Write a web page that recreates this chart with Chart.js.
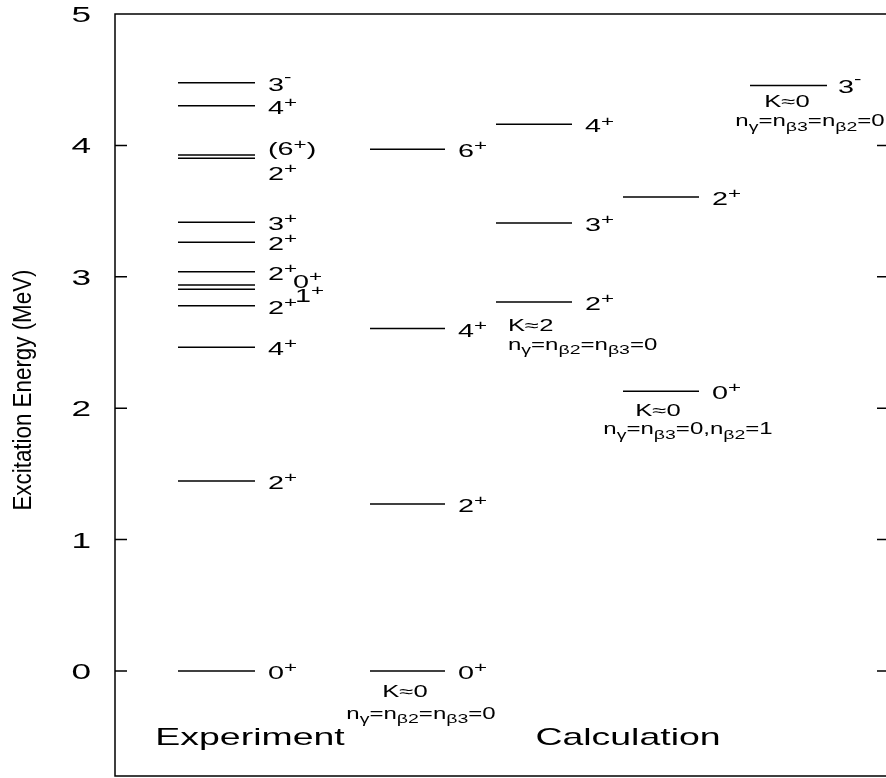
<!DOCTYPE html>
<html>
<head>
<meta charset="utf-8">
<script src="https://cdn.jsdelivr.net/npm/chart.js@4.4.1/dist/chart.umd.min.js"></script>
<style>
  html, body { margin: 0; padding: 0; background: #fff; }
  #wrap { width: 886px; height: 778px; position: relative; }
</style>
</head>
<body>
<div id="wrap"><canvas id="levelChart"></canvas></div>
<script>
// energy ticks (MeV)
const yTicks = [0, 1, 2, 3, 4, 5];

// experimental levels
const expEnergies = [0, 1.446, 2.463, 2.780, 2.905, 2.938, 3.039, 3.262, 3.415, 3.902, 3.927, 4.302, 4.477];
const expSpins = ['0^+', '2^+', '4^+', '2^+', '1^+', '0^+', '2^+', '2^+', '3^+', '2^+', '(6^+)', '4^+', '3^-'];

// calculated bands
const gsbEnergies = [0, 1.270, 2.606, 3.970];
const gsbSpins = ['0^+', '2^+', '4^+', '6^+'];
const gamEnergies = [2.808, 3.409, 4.160];
const gamSpins = ['2^+', '3^+', '4^+'];
const betEnergies = [2.129, 3.607];
const betSpins = ['0^+', '2^+'];
const octEnergies = [4.456];
const octSpins = ['3^-'];

const bandK = ['K≈0', 'K≈2', 'K≈0', 'K≈0'];
const bandN = ['n_γ=n_{β2}=n_{β3}=0', 'n_γ=n_{β2}=n_{β3}=0', 'n_γ=n_{β3}=0,n_{β2}=1', 'n_γ=n_{β3}=n_{β2}=0'];

// layout (x in pixels of the 886 wide page)
const columns = {
  exp: { x0: 178, x1: 255, lx: 268 },
  gsb: { x0: 370, x1: 445, lx: 458 },
  gam: { x0: 496, x1: 572, lx: 585 },
  bet: { x0: 623, x1: 699, lx: 712 },
  oct: { x0: 750, x1: 827, lx: 838 }
};
// crowded experimental labels: index -> label anchor
const expLabelAt = { 4: { x: 295, e: 2.867 }, 5: { x: 293, e: 2.973 }, 9: { e: 3.795 }, 10: { e: 3.985 } };
// band tags: which level they hang under, x, alignment, pixel offsets
const tagPlace = [
  { band: 'gsb', level: 0, kx: 405, nx: 421, align: 'center', kdy: 26, ndy: 48 },
  { band: 'gam', level: 0, kx: 508, nx: 508, align: 'left', kdy: 29, ndy: 48 },
  { band: 'bet', level: 0, kx: 658, nx: 688, align: 'center', kdy: 25, ndy: 43 },
  { band: 'oct', level: 0, kx: 787, nx: 810, align: 'center', kdy: 22, ndy: 41 }
];

const FONT = '"Liberation Sans", Arial, sans-serif';
const STRETCH = 1.6;

const bands = {
  exp: { e: expEnergies, s: expSpins },
  gsb: { e: gsbEnergies, s: gsbSpins },
  gam: { e: gamEnergies, s: gamSpins },
  bet: { e: betEnergies, s: betSpins },
  oct: { e: octEnergies, s: octSpins }
};

// split "n_{β2}" / "2^+" into plain, sub and sup runs
function parseRich(str) {
  const out = [];
  let i = 0, buf = '';
  while (i < str.length) {
    const c = str[i];
    if (c === '^' || c === '_') {
      if (buf) { out.push({ t: buf, k: '' }); buf = ''; }
      let t;
      if (str[i + 1] === '{') {
        const j = str.indexOf('}', i);
        t = str.slice(i + 2, j);
        i = j + 1;
      } else {
        t = str[i + 1];
        i += 2;
      }
      out.push({ t: t, k: c === '^' ? 'sup' : 'sub' });
    } else {
      buf += c;
      i++;
    }
  }
  if (buf) out.push({ t: buf, k: '' });
  return out;
}

function drawRich(ctx, str, x, y, align, size, stretch) {
  const segs = parseRich(str);
  const small = Math.round(size * 0.8);
  let w = 0;
  segs.forEach(function(s) {
    ctx.font = (s.k ? small : size) + 'px ' + FONT;
    s.w = ctx.measureText(s.t).width;
    w += s.w;
  });
  let x0 = x;
  if (align === 'center') x0 = x - w * stretch / 2;
  else if (align === 'right') x0 = x - w * stretch;
  ctx.save();
  ctx.translate(x0, y);
  ctx.scale(stretch, 1);
  ctx.fillStyle = '#000';
  ctx.textBaseline = 'alphabetic';
  ctx.textAlign = 'left';
  let cx = 0;
  segs.forEach(function(s) {
    ctx.font = (s.k ? small : size) + 'px ' + FONT;
    let dy = 0;
    if (s.k === 'sup') dy = s.t === '-' ? -size * 0.5 : -size * 0.38;
    if (s.k === 'sub') dy = size * 0.27;
    ctx.fillText(s.t, cx, dy);
    cx += s.w;
  });
  ctx.restore();
}

function levelSets(name) {
  const col = columns[name];
  return bands[name].e.map(function(e) {
    return {
      data: [{ x: col.x0, y: e }, { x: col.x1, y: e }],
      showLine: true,
      borderColor: '#000',
      borderWidth: 1.5,
      pointRadius: 0
    };
  });
}

const datasets = [].concat(levelSets('exp'), levelSets('gsb'), levelSets('gam'), levelSets('bet'), levelSets('oct'));

const decorPlugin = {
  id: 'decor',
  afterDraw: function(chart) {
    const ctx = chart.ctx;
    const a = chart.chartArea;
    const ys = chart.scales.y;

    // frame
    ctx.save();
    ctx.strokeStyle = '#000';
    ctx.lineWidth = 1.5;
    ctx.beginPath();
    ctx.moveTo(a.right, a.top);
    ctx.lineTo(a.left, a.top);
    ctx.lineTo(a.left, a.bottom);
    ctx.lineTo(a.right, a.bottom);
    ys.ticks.forEach(function(t) {
      const py = ys.getPixelForValue(t.value);
      ctx.moveTo(a.left, py);
      ctx.lineTo(a.left + 12, py);
      ctx.moveTo(a.right - 9, py);
      ctx.lineTo(a.right, py);
    });
    ctx.stroke();
    ctx.restore();

    // tick labels
    ys.ticks.forEach(function(t) {
      const py = ys.getPixelForValue(t.value);
      drawRich(ctx, String(t.value), 91, py + 8, 'right', 22, STRETCH);
    });

    // axis title
    ctx.save();
    ctx.translate(31, 390);
    ctx.rotate(-Math.PI / 2);
    ctx.scale(0.86, 1);
    ctx.font = '26px ' + FONT;
    ctx.fillStyle = '#000';
    ctx.textAlign = 'center';
    ctx.textBaseline = 'alphabetic';
    ctx.fillText('Excitation Energy (MeV)', 0, 0);
    ctx.restore();

    // spin labels
    Object.keys(bands).forEach(function(name) {
      const b = bands[name];
      b.e.forEach(function(e, i) {
        let lx = columns[name].lx, le = e;
        if (name === 'exp' && expLabelAt[i]) {
          if (expLabelAt[i].x) lx = expLabelAt[i].x;
          if (expLabelAt[i].e !== undefined) le = expLabelAt[i].e;
        }
        drawRich(ctx, b.s[i], lx, ys.getPixelForValue(le) + 8, 'left', 18, STRETCH);
      });
    });

    // band tags
    tagPlace.forEach(function(p, i) {
      const py = ys.getPixelForValue(bands[p.band].e[p.level]);
      drawRich(ctx, bandK[i], p.kx, py + p.kdy, p.align, 16, STRETCH);
      drawRich(ctx, bandN[i], p.nx, py + p.ndy, p.align, 16, 1.5);
    });

    // column titles
    drawRich(ctx, 'Experiment', 250, 745, 'center', 24, 1.56);
    drawRich(ctx, 'Calculation', 628, 745, 'center', 24, 1.56);
  }
};

new Chart(document.getElementById('levelChart'), {
  type: 'scatter',
  data: { datasets: datasets },
  options: {
    responsive: true,
    maintainAspectRatio: false,
    animation: false,
    layout: { padding: { top: 14, bottom: 2, left: 0, right: 0 } },
    plugins: { legend: { display: false }, tooltip: { enabled: false } },
    scales: {
      x: { type: 'linear', min: 115, max: 886, display: false },
      y: {
        type: 'linear',
        min: -0.8,
        max: 5,
        afterBuildTicks: function(scale) {
          scale.ticks = yTicks.map(function(v) { return { value: v }; });
        },
        afterFit: function(scale) { scale.width = 115; },
        ticks: { display: false },
        grid: { display: false },
        border: { display: false }
      }
    }
  },
  plugins: [decorPlugin]
});
</script>
</body>
</html>
